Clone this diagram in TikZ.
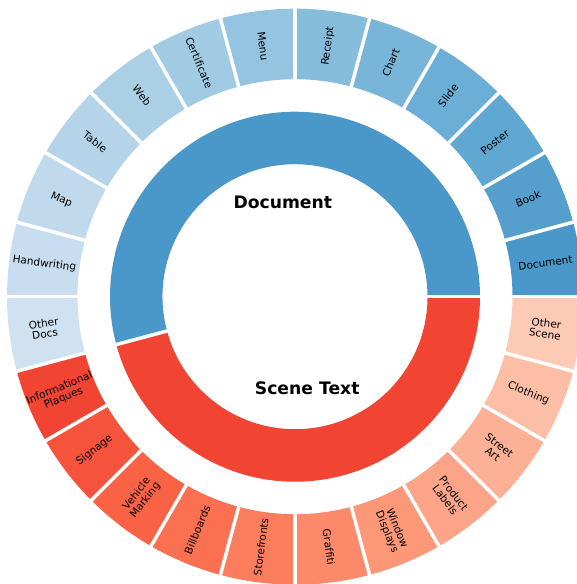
\documentclass[tikz,border=0pt]{standalone}
\usepackage{fontspec}
\setmainfont{DejaVu Sans}[Ligatures=NoCommon]
\definecolor{c0}{RGB}{74,152,201}
\definecolor{c1}{RGB}{85,159,205}
\definecolor{c2}{RGB}{96,167,210}
\definecolor{c3}{RGB}{107,174,214}
\definecolor{c4}{RGB}{121,181,217}
\definecolor{c5}{RGB}{134,189,220}
\definecolor{c6}{RGB}{148,196,223}
\definecolor{c7}{RGB}{161,203,226}
\definecolor{c8}{RGB}{171,208,230}
\definecolor{c9}{RGB}{182,212,233}
\definecolor{c10}{RGB}{193,217,237}
\definecolor{c11}{RGB}{201,221,240}
\definecolor{c12}{RGB}{208,225,242}
\definecolor{c13}{RGB}{241,68,50}
\definecolor{c14}{RGB}{245,83,60}
\definecolor{c15}{RGB}{249,98,69}
\definecolor{c16}{RGB}{251,112,80}
\definecolor{c17}{RGB}{251,125,93}
\definecolor{c18}{RGB}{252,138,106}
\definecolor{c19}{RGB}{252,151,120}
\definecolor{c20}{RGB}{252,164,135}
\definecolor{c21}{RGB}{252,177,150}
\definecolor{c22}{RGB}{252,190,165}
\definecolor{c23}{RGB}{253,202,181}
\definecolor{docin}{RGB}{74,152,201}
\definecolor{scenein}{RGB}{241,68,50}
\newcommand\lpstrut{\rule[-2.18pt]{0pt}{10.16pt}}
\begin{document}
\begin{tikzpicture}[x=1pt,y=1pt,
  gapline/.style={white,line width=3.5pt},
  seglabel/.style={inner sep=0pt,align=center,
    font=\fontsize{10.5}{10.8}\selectfont,
    execute at begin node={\lineskiplimit=-100pt\relax}},
  biglabel/.style={inner sep=0pt,text height=13.1pt,text depth=3.6pt,
    font=\bfseries\fontsize{17.2}{20}\selectfont}]
\useasboundingbox (-295,-287.3) rectangle (282,296.7);
\clip (-295,-287.3) rectangle (282,296.7);
% inner ring
\fill[docin] (0:132.5) -- (0:185) arc[start angle=0,end angle=195,radius=185pt]
  -- (195:132.5) arc[start angle=195,end angle=0,radius=132.5pt] -- cycle;
\fill[scenein] (195:132.5) -- (195:185) arc[start angle=195,end angle=360,radius=185pt]
  -- (360:132.5) arc[start angle=360,end angle=195,radius=132.5pt] -- cycle;
\foreach \a in {0,195} \draw[gapline] (\a:125) -- (\a:192);
% outer ring
\foreach \i in {0,...,23}{
  \pgfmathsetmacro\sa{15*\i}
  \pgfmathsetmacro\ea{15*\i+15}
  \fill[c\i] (\sa:217.5) -- (\sa:288) arc[start angle=\sa,end angle=\ea,radius=288pt]
    -- (\ea:217.5) arc[start angle=\ea,end angle=\sa,radius=217.5pt] -- cycle;
}
\foreach \i in {0,...,23}{
  \pgfmathsetmacro\ba{15*\i}
  \draw[gapline] (\ba:210) -- (\ba:300);
}
% outer labels
\foreach \i/\labtext in {0/{\lpstrut Document},1/{\lpstrut Book},2/{\lpstrut Poster},
  3/{\lpstrut Slide},4/{\lpstrut Chart},5/{\lpstrut Receipt},6/{\lpstrut Menu},
  7/{\lpstrut Certificate},8/{\lpstrut Web},9/{\lpstrut Table},10/{\lpstrut Map},
  11/{\lpstrut Handwriting},12/{\lpstrut Other\\\lpstrut Docs},
  13/{\lpstrut Informational\\\lpstrut Plaques},14/{\lpstrut Signage},
  15/{\lpstrut Vehicle\\\lpstrut Marking},16/{\lpstrut Billboards},
  17/{\lpstrut Storefronts},18/{\lpstrut Graffiti},
  19/{\lpstrut Window\\\lpstrut Displays},20/{\lpstrut Product\\\lpstrut Labels},
  21/{\lpstrut Street\\\lpstrut Art},22/{\lpstrut Clothing},
  23/{\lpstrut Other\\\lpstrut Scene}}{
  \pgfmathsetmacro\mid{15*\i+7.5}
  \pgfmathsetmacro\rot{\mid>90 ? (\mid<270 ? \mid-180 : \mid) : \mid}
  \node[seglabel,rotate=\rot] (lab\i) at (\mid:252.75) {\labtext};
}
% inner labels
\node[biglabel] (doclabel) at (97.5:93.5) {Document};
\node[biglabel] (scenelabel) at (277.5:93.5) {Scene Text};
\end{tikzpicture}
\end{document}
